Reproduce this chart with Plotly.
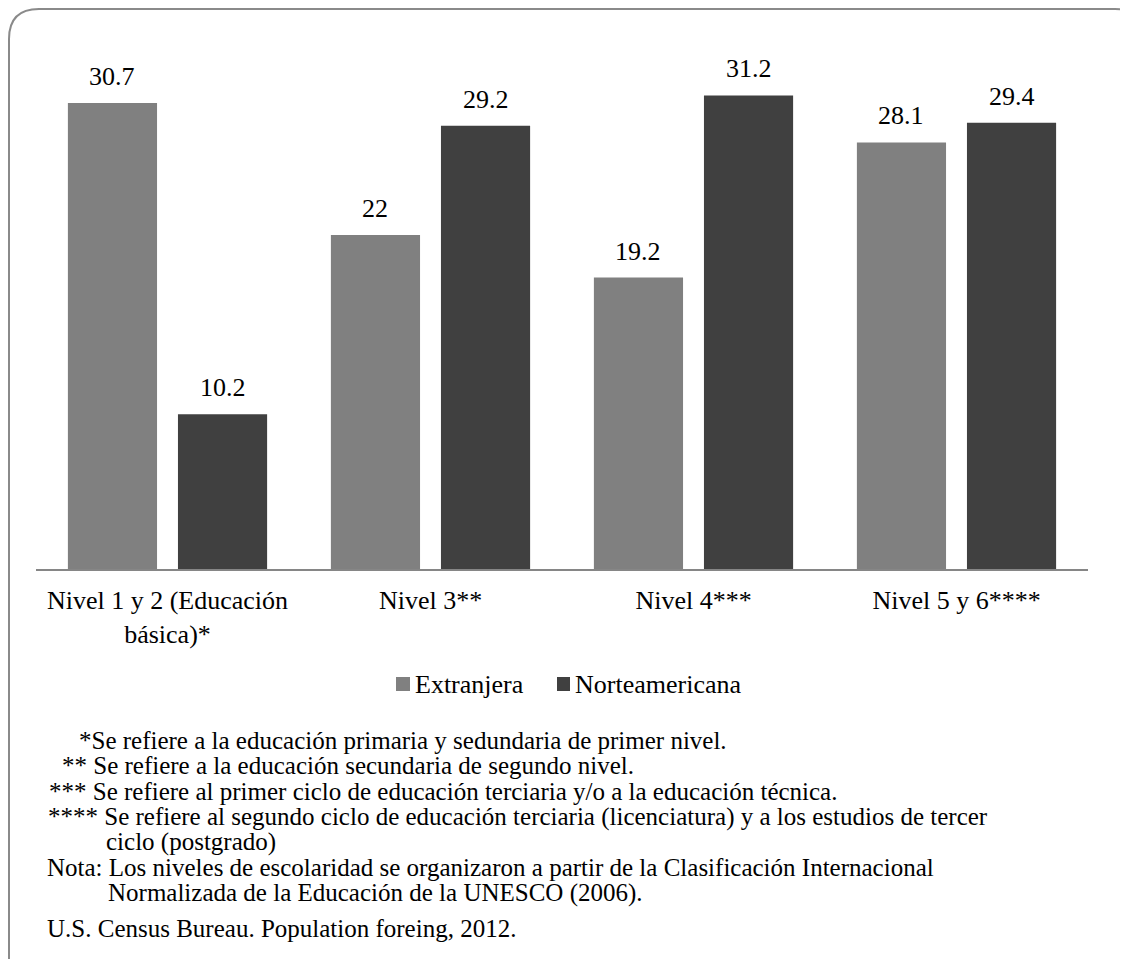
import plotly.graph_objects as go

# ---- data ----
categories = ["Nivel 1 y 2 (Educación<br>básica)*", "Nivel 3**", "Nivel 4***", "Nivel 5 y 6****"]
series_names = ["Extranjera", "Norteamericana"]
extranjera = [30.7, 22, 19.2, 28.1]
norteamericana = [10.2, 29.2, 31.2, 29.4]
footnotes = [
    "*Se refiere a la educación primaria y sedundaria de primer nivel.",
    "** Se refiere a la educación secundaria de segundo nivel.",
    "*** Se refiere al primer ciclo de educación terciaria y/o a la educación técnica.",
    "**** Se refiere al segundo ciclo de educación terciaria (licenciatura) y a los estudios de tercer",
    "ciclo (postgrado)",
    "Nota: Los niveles de escolaridad se organizaron a partir de la Clasificación Internacional",
    "Normalizada de la Educación de la UNESCO (2006).",
    "U.S. Census Bureau. Population foreing, 2012.",
]
colors = ["#808080", "#404040"]

# ---- layout helpers (pixel -> paper); page body has an 8px margin ----
W, H = 1128, 959
OFF = 8
def fx(x):
    return (x - OFF) / W
def fy(y):
    return 1 - (y - OFF) / H

FONT = "Liberation Serif"

plot_left, plot_right = 36, 1088
base_y = 569
px_per_unit = 15.18
ymax = 35
bargap = 0.163
bargroupgap = 0.19
cat_px = (plot_right - plot_left) / len(categories)
slot_px = cat_px * (1 - bargap) / 2

fig = go.Figure()
for name, vals, col in zip(series_names, [extranjera, norteamericana], colors):
    fig.add_trace(go.Bar(
        x=categories, y=vals, name=name,
        marker=dict(color=col, line=dict(width=0)),
        showlegend=False,
    ))

# value labels above the bars
for i, vals in enumerate([extranjera, norteamericana]):
    shift = (i - 0.5) * slot_px
    for cat, v in zip(categories, vals):
        fig.add_annotation(x=cat, y=v, xref="x", yref="y", text=f"{v:g}",
                           showarrow=False, xshift=shift, yshift=10,
                           xanchor="center", yanchor="bottom",
                           font=dict(family=FONT, size=26, color="#000000"))

fig.update_layout(
    width=W, height=H, template="none",
    margin=dict(l=0, r=0, t=0, b=0),
    paper_bgcolor="white", plot_bgcolor="white",
    barmode="group", bargap=bargap, bargroupgap=bargroupgap,
    font=dict(family=FONT, color="#000000"),
    xaxis=dict(domain=[fx(plot_left), fx(plot_right)], range=[-0.5, 3.5], showline=True,
               linecolor="#868686", linewidth=1.5, showgrid=False, ticks="",
               ticklabelstandoff=7,
               tickfont=dict(family=FONT, size=26, color="#000000"), automargin=False),
    yaxis=dict(domain=[fy(base_y), fy(base_y - ymax * px_per_unit)], range=[0, ymax],
               visible=False, showgrid=False, automargin=False),
    showlegend=False,
)

# legend (drawn manually for the tight Office-like look)
leg_y = 684
leg_sq = [(396, 410), (557, 570)]
for (x0, x1), name, col in zip(leg_sq, series_names, colors):
    fig.add_shape(type="rect", xref="paper", yref="paper",
                  x0=fx(x0), x1=fx(x1), y0=fy(leg_y - 7), y1=fy(leg_y + 7),
                  fillcolor=col, line=dict(width=0))
    fig.add_annotation(text=name, x=fx(x1 + 3), y=fy(leg_y), xref="paper", yref="paper",
                       xanchor="left", yanchor="middle", showarrow=False,
                       font=dict(family=FONT, size=26, color="#000000"))

# rounded border (extends past right and bottom edges)
L, T, R, B, r = 9, 9, 1145, 972, 30
path = (f"M {fx(L)},{fy(B)} L {fx(L)},{fy(T + r)} Q {fx(L)},{fy(T)} {fx(L + r)},{fy(T)} "
        f"L {fx(R - r)},{fy(T)} Q {fx(R)},{fy(T)} {fx(R)},{fy(T + r)} L {fx(R)},{fy(B)}")
fig.add_shape(type="path", path=path, xref="paper", yref="paper",
              line=dict(color="#8a8a8a", width=2))

note_x = [77, 60, 47, 46, 104, 45, 106, 45]
note_y = [740, 765.5, 791, 816.5, 842, 867.5, 893, 928]
for txt, xx, yy in zip(footnotes, note_x, note_y):
    fig.add_annotation(text=txt, x=fx(xx), y=fy(yy), xref="paper", yref="paper",
                       xanchor="left", yanchor="middle", showarrow=False,
                       font=dict(family=FONT, size=25, color="#000000"))

fig.write_html("out.html")
